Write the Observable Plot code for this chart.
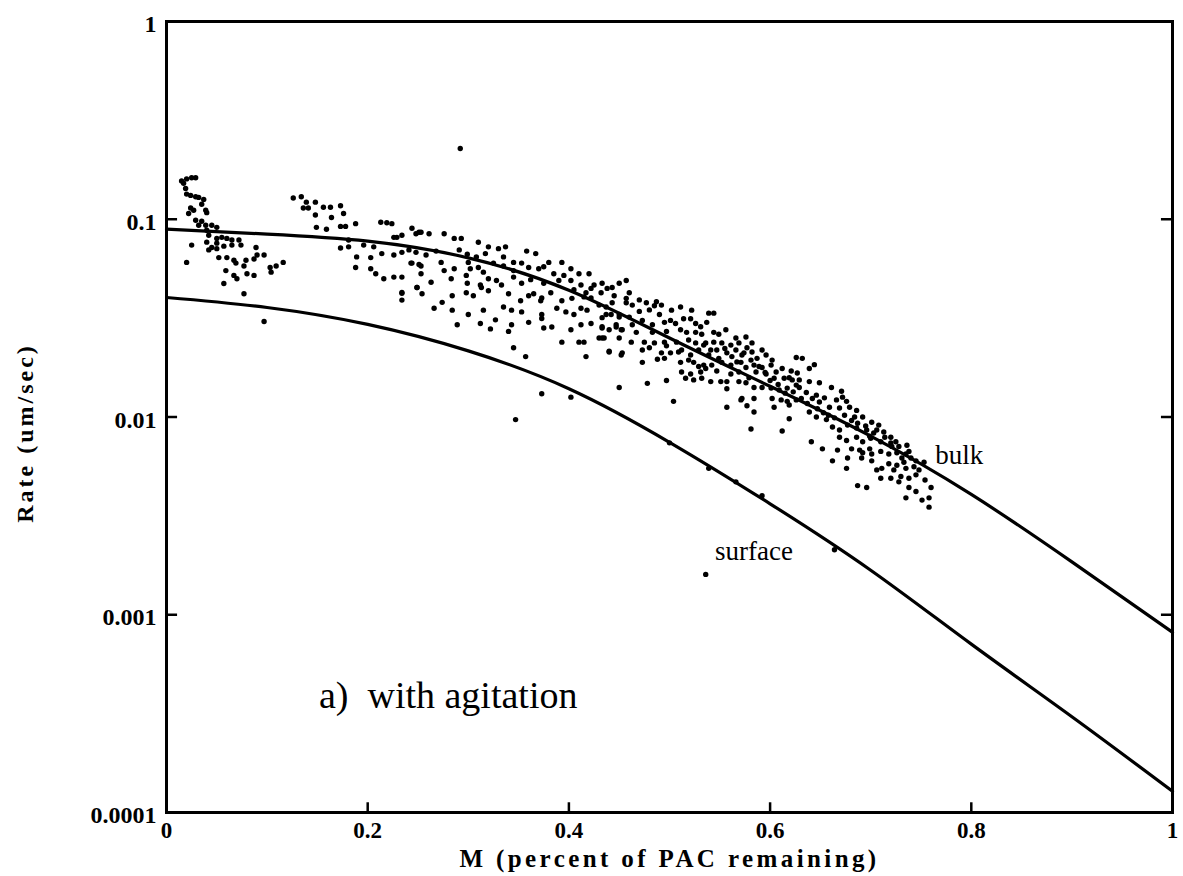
<!DOCTYPE html>
<html>
<head>
<meta charset="utf-8">
<script src="https://cdn.jsdelivr.net/npm/d3@7"></script>
<script src="https://cdn.jsdelivr.net/npm/@observablehq/plot@0.6"></script>
<style>
  html, body { margin: 0; padding: 0; background: #fff; }
  #chart { width: 1183px; height: 876px; }
</style>
</head>
<body>
<div id="chart"></div>
<script>
// Axis tick values and labels
const xTicks = [0, 0.2, 0.4, 0.6, 0.8, 1];
const xTickLabels = ["0", "0.2", "0.4", "0.6", "0.8", "1"];
const yTicks = [1, 0.1, 0.01, 0.001, 0.0001];
const yTickLabels = ["1", "0.1", "0.01", "0.001", "0.0001"];
const xTitle = "M (percent of PAC remaining)";
const yTitle = "Rate (um/sec)";
const panelLabel = "a)  with agitation";

// Model curves
const curveM = [0, 0.1, 0.2, 0.3, 0.4, 0.5, 0.6, 0.7, 0.8, 0.9, 1.0];
const bulkRate = [0.0891, 0.0841, 0.0775, 0.0638, 0.0438, 0.0251, 0.0143, 0.0080, 0.00406, 0.00185, 0.000815];
const surfaceRate = [0.0402, 0.0358, 0.0294, 0.0216, 0.0139, 0.00745, 0.00364, 0.00168, 0.00071, 0.000305, 0.000128];

// Measured points [M, rate]
const measured = [
[0.015,0.156],[0.020,0.160],[0.025,0.162],[0.029,0.162],[0.017,0.152],[0.019,0.143],[0.020,0.134],[0.024,0.132],
[0.029,0.130],[0.032,0.129],[0.037,0.126],[0.035,0.119],[0.039,0.111],[0.040,0.108],[0.024,0.114],[0.027,0.111],
[0.022,0.107],[0.029,0.0988],[0.035,0.0977],[0.032,0.0932],[0.039,0.0932],[0.045,0.0932],[0.050,0.091],[0.040,0.088],
[0.042,0.083],[0.050,0.080],[0.055,0.081],[0.060,0.080],[0.065,0.0785],[0.072,0.0785],[0.040,0.0766],[0.050,0.0757],
[0.057,0.0731],[0.065,0.074],[0.074,0.074],[0.025,0.074],[0.042,0.070],[0.045,0.072],[0.050,0.071],[0.052,0.064],
[0.060,0.064],[0.067,0.062],[0.069,0.060],[0.077,0.058],[0.079,0.062],[0.087,0.063],[0.089,0.072],[0.090,0.066],
[0.097,0.066],[0.020,0.0605],[0.059,0.055],[0.067,0.052],[0.070,0.050],[0.080,0.053],[0.087,0.052],[0.103,0.057],
[0.109,0.058],[0.116,0.0605],[0.104,0.054],[0.057,0.0473],[0.077,0.042],[0.097,0.0304],
[0.126,0.128],[0.134,0.130],[0.139,0.122],[0.148,0.122],[0.136,0.114],[0.141,0.114],[0.156,0.115],[0.163,0.115],
[0.173,0.117],[0.148,0.105],[0.164,0.102],[0.176,0.107],[0.149,0.091],[0.159,0.089],[0.173,0.092],[0.178,0.092],
[0.188,0.095],[0.213,0.0965],[0.224,0.095],[0.234,0.083],[0.244,0.090],[0.251,0.086],[0.181,0.0785],[0.173,0.0716],
[0.181,0.0725],[0.196,0.074],[0.206,0.0725],[0.189,0.0645],[0.203,0.064],[0.214,0.067],[0.226,0.066],[0.234,0.068],
[0.188,0.057],[0.203,0.0562],[0.208,0.053],[0.216,0.050],[0.226,0.051],[0.234,0.051],[0.243,0.060],[0.251,0.059],
[0.248,0.068],[0.249,0.0452],[0.234,0.0422],[0.234,0.039],[0.219,0.096],[0.226,0.081],[0.229,0.081],
[0.248,0.0845],[0.253,0.086],[0.261,0.0845],[0.276,0.0845],[0.286,0.080],[0.293,0.080],[0.310,0.0765],[0.320,0.0725],
[0.337,0.0725],[0.358,0.069],[0.367,0.067],[0.241,0.070],[0.258,0.066],[0.268,0.069],[0.291,0.070],[0.299,0.0665],
[0.317,0.067],[0.330,0.071],[0.244,0.060],[0.253,0.058],[0.273,0.0605],[0.276,0.055],[0.286,0.0562],[0.302,0.0562],
[0.310,0.057],[0.315,0.054],[0.325,0.060],[0.335,0.058],[0.345,0.055],[0.353,0.060],[0.360,0.057],[0.375,0.0575],
[0.393,0.0605],[0.402,0.0562],[0.410,0.053],[0.420,0.053],[0.253,0.053],[0.263,0.048],[0.283,0.050],[0.298,0.052],
[0.299,0.0475],[0.312,0.0465],[0.320,0.050],[0.328,0.049],[0.333,0.0465],[0.345,0.051],[0.353,0.0475],[0.362,0.0495],
[0.375,0.0475],[0.385,0.053],[0.395,0.052],[0.402,0.049],[0.412,0.0465],[0.422,0.0447],[0.433,0.0475],[0.443,0.0452],
[0.450,0.0475],[0.457,0.049],[0.234,0.0427],[0.249,0.0452],[0.254,0.042],[0.284,0.041],[0.298,0.0425],[0.305,0.041],
[0.313,0.0452],[0.320,0.0435],[0.340,0.042],[0.352,0.0387],[0.360,0.041],[0.365,0.042],[0.373,0.040],[0.382,0.0425],
[0.393,0.0387],[0.403,0.0398],[0.417,0.0425],[0.422,0.040],[0.432,0.0425],[0.438,0.0447],[0.457,0.0398],
[0.266,0.0355],[0.274,0.038],[0.284,0.0347],[0.300,0.033],[0.315,0.0347],[0.327,0.031],[0.335,0.036],[0.343,0.0347],
[0.353,0.034],[0.372,0.0387],[0.373,0.033],[0.388,0.0355],[0.397,0.034],[0.405,0.033],[0.412,0.0355],[0.418,0.0347],
[0.430,0.0368],[0.433,0.0318],[0.442,0.033],[0.450,0.033],[0.289,0.0293],[0.312,0.0297],[0.322,0.0279],[0.340,0.0271],
[0.343,0.0293],[0.360,0.0301],[0.373,0.0315],[0.375,0.0282],[0.383,0.0285],[0.393,0.0239],[0.402,0.0276],[0.412,0.0293],
[0.422,0.0297],[0.433,0.0282],[0.440,0.0276],[0.447,0.0285],[0.452,0.0276],[0.410,0.0239],[0.415,0.0239],[0.345,0.0224],
[0.357,0.0202],[0.417,0.0202],[0.433,0.0251],[0.440,0.0215],[0.452,0.0206],[0.373,0.0131],[0.402,0.0126],[0.450,0.0141],
[0.437,0.036],[0.443,0.0378],[0.457,0.0378],[0.463,0.0368],[0.477,0.0378],[0.487,0.0383],[0.492,0.0368],[0.502,0.0347],
[0.511,0.036],[0.522,0.0347],[0.539,0.0335],[0.544,0.0335],[0.437,0.033],[0.450,0.032],[0.460,0.032],[0.463,0.0293],
[0.473,0.0308],[0.483,0.0293],[0.495,0.0301],[0.501,0.0308],[0.506,0.0297],[0.514,0.0314],[0.521,0.0314],[0.526,0.0297],
[0.531,0.0286],[0.537,0.0301],[0.433,0.0286],[0.447,0.0293],[0.453,0.0276],[0.467,0.0268],[0.483,0.0268],[0.497,0.0271],
[0.511,0.0276],[0.517,0.0268],[0.526,0.0268],[0.532,0.0262],[0.544,0.0268],[0.556,0.0276],[0.566,0.0251],[0.576,0.0254],
[0.430,0.0251],[0.435,0.0251],[0.450,0.0251],[0.462,0.0239],[0.475,0.0239],[0.485,0.0237],[0.495,0.0239],[0.507,0.0239],
[0.519,0.0245],[0.526,0.0237],[0.536,0.0237],[0.544,0.0239],[0.552,0.0237],[0.561,0.0231],[0.569,0.0237],[0.577,0.0224],
[0.582,0.0237],[0.592,0.0218],[0.440,0.0213],[0.453,0.0211],[0.473,0.0218],[0.480,0.0224],[0.492,0.0211],[0.501,0.0211],
[0.512,0.0218],[0.521,0.0206],[0.529,0.0218],[0.539,0.0206],[0.547,0.0218],[0.557,0.0211],[0.566,0.0218],[0.572,0.0206],
[0.582,0.0213],[0.587,0.0198],[0.596,0.0206],[0.602,0.0194],[0.473,0.0189],[0.488,0.0196],[0.495,0.0198],[0.511,0.0189],
[0.524,0.0189],[0.534,0.0183],[0.542,0.0183],[0.552,0.0189],[0.561,0.0183],[0.571,0.0189],[0.576,0.0178],[0.584,0.0183],
[0.592,0.0178],[0.601,0.0183],[0.606,0.0169],[0.612,0.0176],[0.621,0.0171],[0.626,0.0200],[0.512,0.0169],[0.521,0.0165],
[0.531,0.0169],[0.536,0.0176],[0.547,0.0171],[0.561,0.0165],[0.569,0.0169],[0.579,0.0158],[0.586,0.0169],[0.596,0.0165],
[0.604,0.0157],[0.614,0.0157],[0.622,0.0154],[0.627,0.0167],[0.478,0.0148],[0.497,0.0153],[0.516,0.0157],[0.524,0.0154],
[0.532,0.0157],[0.541,0.0151],[0.551,0.0151],[0.557,0.0151],[0.569,0.0151],[0.576,0.0149],[0.584,0.0141],[0.592,0.0141],
[0.601,0.0140],[0.609,0.0137],[0.617,0.0140],[0.626,0.0145],[0.557,0.0139],[0.572,0.0124],[0.584,0.0124],[0.602,0.0124],
[0.611,0.0122],[0.617,0.0120],[0.626,0.0122],[0.504,0.0120],[0.557,0.0112],[0.577,0.0114],[0.584,0.0106],[0.604,0.0112],
[0.619,0.0115],[0.619,0.0098],[0.581,0.0087],[0.612,0.0085],[0.571,0.0122],
[0.632,0.0198],[0.639,0.0176],[0.644,0.0184],[0.619,0.0158],[0.629,0.0154],[0.639,0.0151],[0.649,0.0149],[0.661,0.0141],
[0.671,0.0135],[0.672,0.0126],[0.629,0.0141],[0.636,0.0133],[0.646,0.0129],[0.654,0.0125],[0.666,0.0122],[0.676,0.0120],
[0.649,0.0119],[0.659,0.0112],[0.669,0.0111],[0.679,0.0112],[0.686,0.0108],[0.684,0.0100],[0.692,0.0100],[0.701,0.0094],
[0.708,0.0091],[0.639,0.0106],[0.646,0.0100],[0.656,0.0097],[0.662,0.0089],[0.669,0.0086],[0.677,0.0091],[0.686,0.0088],
[0.696,0.0086],[0.703,0.0083],[0.713,0.0084],[0.720,0.0079],[0.669,0.0079],[0.676,0.0076],[0.686,0.0079],[0.692,0.0075],
[0.700,0.0078],[0.710,0.0075],[0.720,0.0074],[0.728,0.0071],[0.736,0.0072],[0.745,0.0060],[0.681,0.0069],[0.692,0.0066],
[0.701,0.0065],[0.710,0.0067],[0.718,0.0065],[0.726,0.0066],[0.735,0.0065],[0.641,0.0075],[0.652,0.0069],[0.662,0.0060],
[0.676,0.0055],[0.691,0.0062],[0.701,0.0060],[0.711,0.0055],[0.718,0.0058],[0.726,0.0057],[0.735,0.0055],[0.710,0.0049],
[0.720,0.0049],[0.730,0.0050],[0.738,0.0049],[0.745,0.0051],[0.687,0.0045],[0.696,0.0044],[0.735,0.0039],[0.745,0.0042],
[0.751,0.0038],[0.758,0.0039],[0.758,0.0035],[0.738,0.0044],[0.728,0.0047],[0.738,0.0067],[0.743,0.0056],
[0.534,0.0231],[0.541,0.0218],[0.549,0.0198],[0.555,0.0222],[0.562,0.0202],[0.567,0.0190],[0.574,0.0211],[0.581,0.0194],
[0.589,0.0180],[0.595,0.0168],[0.600,0.0153],[0.608,0.0146],[0.615,0.0132],[0.623,0.0134],[0.631,0.0124],[0.637,0.0117],
[0.642,0.0124],[0.647,0.0110],[0.653,0.0105],[0.658,0.0102],[0.664,0.0099],[0.674,0.0102],[0.681,0.0096],[0.687,0.0093],
[0.695,0.0090],[0.699,0.0080],[0.706,0.0086],[0.714,0.0079],[0.721,0.0071],[0.725,0.0075],[0.731,0.0062],[0.733,0.0059],
[0.740,0.0062],[0.748,0.0054],[0.754,0.0048],[0.760,0.0044],[0.753,0.0059],[0.723,0.0054],[0.706,0.0054],[0.699,0.0069],
[0.689,0.0068],[0.677,0.0062],[0.667,0.0068],
[0.300,0.0605],[0.308,0.0645],[0.335,0.0645],[0.345,0.0605],[0.370,0.0562],[0.380,0.0605],[0.390,0.049],[0.405,0.044],
[0.415,0.0405],[0.425,0.0465],[0.445,0.041],[0.460,0.0425],[0.470,0.0391],[0.480,0.0348],[0.490,0.033],[0.485,0.0365],
[0.470,0.0342],[0.497,0.0229],[0.509,0.0213],[0.519,0.0194],[0.529,0.0180],[0.549,0.0262],
[0.292,0.228],[0.347,0.0097],[0.500,0.0074],[0.539,0.0055],[0.566,0.0047],[0.592,0.0040],[0.536,0.0016],[0.664,0.00213]
];

const curveData = curveM.map((m, i) => ({M: m, bulk: bulkRate[i], surface: surfaceRate[i]}));
const points = measured.map(([m, r]) => ({M: m, rate: r}));

const font = "'Liberation Serif', 'Times New Roman', serif";
const innerY = [0.1, 0.01, 0.001];
const innerX = [0.2, 0.4, 0.6, 0.8];

const chart = Plot.plot({
  width: 1183,
  height: 876,
  marginLeft: 166,
  marginRight: 11,
  marginTop: 21,
  marginBottom: 64,
  style: {fontFamily: font, background: "#fff", color: "#000"},
  x: {domain: [0, 1], axis: null},
  y: {type: "log", domain: [0.0001, 1], axis: null},
  marks: [
    // data
    Plot.dot(points, {x: "M", y: "rate", r: 2.7, fill: "#000", stroke: "none"}),
    Plot.line(curveData, {x: "M", y: "bulk", stroke: "#000", strokeWidth: 3.2, curve: "natural"}),
    Plot.line(curveData, {x: "M", y: "surface", stroke: "#000", strokeWidth: 3.2, curve: "natural"}),
    // frame
    Plot.frame({stroke: "#000", strokeWidth: 3}),
    // inward ticks
    Plot.ruleY(innerY, {x1: 0, x2: 0.011, stroke: "#000", strokeWidth: 2.5}),
    Plot.ruleY(innerY, {x1: 0.989, x2: 1, stroke: "#000", strokeWidth: 2.5}),
    Plot.ruleX(innerX, {y1: 0.0001, y2: 0.000112, stroke: "#000", strokeWidth: 2.5}),
    // tick labels
    Plot.text(xTicks, {x: d => d, y: 0.0001, text: (d, i) => xTickLabels[i], dy: 18,
      fontSize: 23, fontWeight: "bold", fill: "#000"}),
    Plot.text(yTicks, {x: 0, y: d => d, text: (d, i) => yTickLabels[i], textAnchor: "end", dx: -10, dy: 3,
      fontSize: 24, fontWeight: "bold", fill: "#000"}),
    // axis titles
    Plot.text([xTitle], {frameAnchor: "bottom", textAnchor: "middle", dy: 54, fontSize: 25, fontWeight: "bold", fill: "#000"}),
    Plot.text([yTitle], {frameAnchor: "left", textAnchor: "middle", y: 0.0083, dx: -141, rotate: -90,
      fontSize: 24, fontWeight: "bold", fill: "#000"}),
    // annotations
    Plot.text(["bulk"], {x: 0.788, y: 0.0064, fontSize: 27, fill: "#000"}),
    Plot.text(["surface"], {x: 0.584, y: 0.0021, fontSize: 27, fill: "#000"}),
    Plot.text([panelLabel], {x: 0.28, y: 0.00039, fontSize: 38, fill: "#000"})
  ]
});
// widen title spacing to match the scanned lettering
chart.querySelectorAll("text").forEach(t => {
  if (t.textContent === xTitle) t.setAttribute("letter-spacing", "3.4");
  if (t.textContent === yTitle) t.setAttribute("letter-spacing", "3");
});
document.getElementById("chart").appendChild(chart);
</script>
</body>
</html>
